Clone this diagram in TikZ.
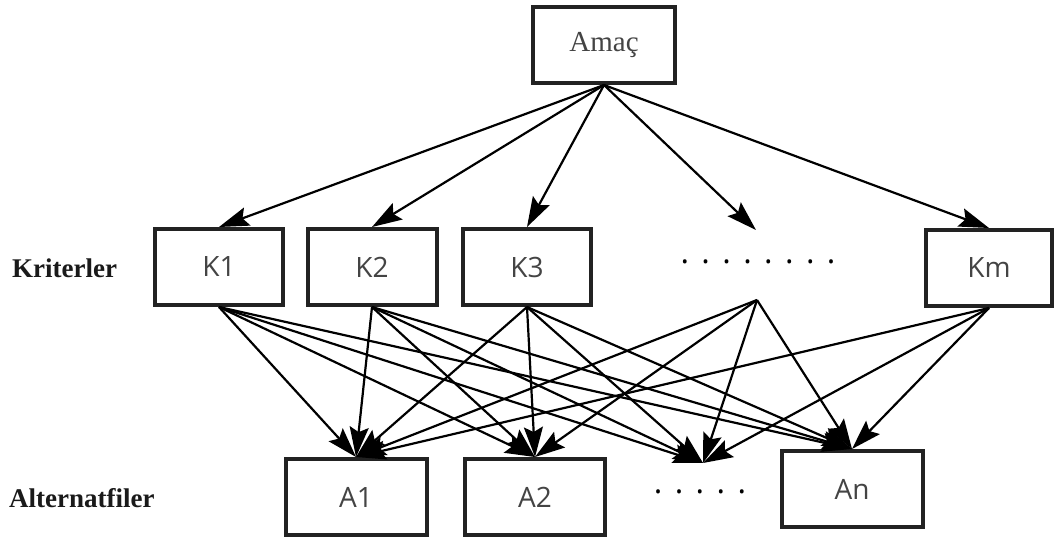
\documentclass[tikz,border=0pt]{standalone}
\usepackage{fontspec}
\setmainfont{Liberation Serif}
\newfontfamily\osans{Open Sans}
\usetikzlibrary{arrows.meta}
\definecolor{boxline}{HTML}{222222}
\definecolor{boxtext}{HTML}{444444}
\definecolor{labtext}{HTML}{1a1a1a}
\newcommand{\dotrow}[1]{\foreach \i in {1,...,#1}{\ifnum\i>1\hspace{12.4pt}\fi.}}
\begin{document}
\begin{tikzpicture}[x=1pt,y=-1pt,
  box/.style={draw=boxline,line width=4pt,fill=white,minimum width=#1,minimum height=76pt,inner sep=0pt,text=boxtext,font=\osans\fontsize{28}{32}\selectfont},
  box/.default=130pt,
  goal/.style={box=142pt,font=\fontsize{29}{34}\selectfont},
  lab/.style={font=\bfseries\fontsize{27}{32}\selectfont,text=labtext,anchor=west,inner sep=0pt},
  dots/.style={font=\osans\fontsize{32}{36}\selectfont,text=black,inner sep=0pt},
  arr/.style={line width=2.2pt,draw=black,-{Stealth[length=30pt,width=19pt,inset=5pt]}}]
\useasboundingbox[fill=white] (0,0) rectangle (1054,541);

\node[goal] (G) at (604,45) {Amaç};

\node[box=128pt] (K1) at (219,267) {K1};
\node[box=129pt] (K2) at (372,267) {K2};
\node[box=128pt] (K3) at (527,267) {K3};
\node[box=126pt] (Km) at (989,268) {Km};
\node[dots] (KD) at (758,262) {\dotrow{8}};

\node[box=141pt] (A1) at (356,497) {A1};
\node[box=140pt] (A2) at (535,497) {A2};
\node[box=141pt] (An) at (852,489) {An};
\node[dots] (AD) at (700,492) {\dotrow{5}};

\node[lab] (LK) at (12,268) {Kriterler};
\node[lab] (LA) at (9,498) {Alternatfiler};

\coordinate (DT) at (756,230);
\coordinate (DS) at (757,300);
\coordinate (DA) at (703,463);

% goal to criteria
\foreach \t in {K1,K2,K3,Km}{\draw[arr] (G.south) -- (\t.north);}
\draw[arr] (G.south) -- (DT);

% criteria to alternatives
\foreach \s in {K1,K2,K3}{
  \draw[arr] (\s.south) -- (A1.north);
  \draw[arr] (\s.south) -- (A2.north);
  \draw[arr] (\s.south) -- (DA);
  \draw[arr] (\s.south) -- (An.north);
}
\draw[arr] (DS) -- (A1.north);
\draw[arr] (DS) -- (A2.north);
\draw[arr] (DS) -- (DA);
\draw[arr] (DS) -- (An.north);
\draw[arr] (Km.south) -- (A1.north);
\draw[arr] (Km.south) -- (DA);
\draw[arr] (Km.south) -- (An.north);
\end{tikzpicture}
\end{document}
